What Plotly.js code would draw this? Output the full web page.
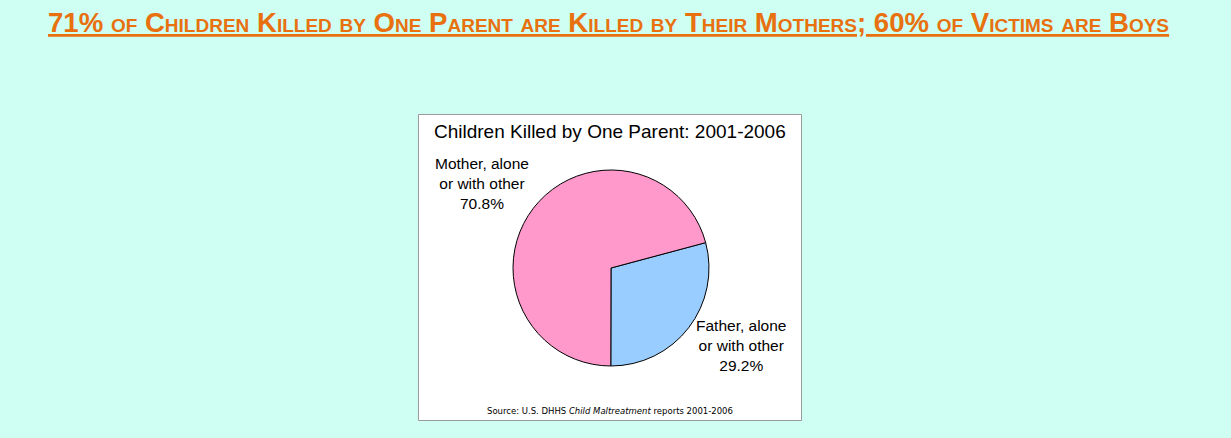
<!DOCTYPE html>
<html>
<head>
<meta charset="utf-8">
<script src="https://cdn.plot.ly/plotly-3.0.1.min.js"></script>
<style>
html,body{margin:0;padding:0;background:#CFFFF3;}
#chart{width:1231px;height:438px;}
</style>
</head>
<body>
<div id="chart"></div>
<script>
var sliceLabels = ["Father, alone<br>or with other", "Mother, alone<br>or with other"];
var sliceValues = [29.2, 70.8];
var sliceColors = ["#99CCFF", "#FF99CC"];

var pageTitle = "71% of Children Killed by One Parent are Killed by Their Mothers; 60% of Victims are Boys";
var chartTitle = "Children Killed by One Parent: 2001-2006";
var sourceText = "Source: U.S. DHHS <i>Child Maltreatment</i> reports 2001-2006";

var W = 1231, H = 438;
function px(x){ return x / W; }
function py(y){ return 1 - y / H; }

var trace = {
  type: "pie",
  labels: sliceLabels,
  values: sliceValues,
  sort: false,
  direction: "clockwise",
  rotation: 75,
  marker: {colors: sliceColors, line: {color: "#000000", width: 1}},
  textinfo: "none",
  hoverinfo: "label+percent",
  showlegend: false,
  domain: {x: [px(513), px(709)], y: [py(366), py(170)]}
};

var labelPos = [[741, 345], [482, 183]];
var annotations = sliceLabels.map(function(l, i){
  return {
    xref: "paper", yref: "paper",
    x: px(labelPos[i][0]), y: py(labelPos[i][1]),
    xanchor: "center", yanchor: "middle",
    text: l + "<br>" + sliceValues[i].toFixed(1) + "%",
    showarrow: false, align: "center",
    font: {family: "Liberation Sans, Arial, sans-serif", size: 15.5, color: "#000000"}
  };
});
annotations.push({
  xref: "paper", yref: "paper", x: px(608.5), y: py(22),
  xanchor: "center", yanchor: "middle", showarrow: false,
  text: "<b>" + pageTitle + "</b>",
  font: {family: "Liberation Sans, Arial, sans-serif", size: 27.6, color: "#E8700F", variant: "small-caps", lineposition: "under"}
});
annotations.push({
  xref: "paper", yref: "paper", x: px(610), y: py(131),
  xanchor: "center", yanchor: "middle", showarrow: false,
  text: chartTitle,
  font: {family: "Liberation Sans, Arial, sans-serif", size: 19, color: "#000000"}
});
annotations.push({
  xref: "paper", yref: "paper", x: px(610), y: py(411),
  xanchor: "center", yanchor: "middle", showarrow: false,
  text: sourceText,
  font: {family: "DejaVu Sans, Verdana, sans-serif", size: 8.5, color: "#000000"}
});

var layout = {
  width: W, height: H,
  margin: {l: 0, r: 0, t: 0, b: 0},
  paper_bgcolor: "#CFFFF3",
  plot_bgcolor: "#CFFFF3",
  shapes: [{
    type: "rect", xref: "paper", yref: "paper", layer: "below",
    x0: px(418.5), x1: px(801.5), y0: py(420.5), y1: py(114.5),
    fillcolor: "#FFFFFF", line: {color: "#9A9A9A", width: 1}
  }],
  annotations: annotations
};

Plotly.newPlot("chart", [trace], layout, {displayModeBar: false, staticPlot: true});
</script>
</body>
</html>
